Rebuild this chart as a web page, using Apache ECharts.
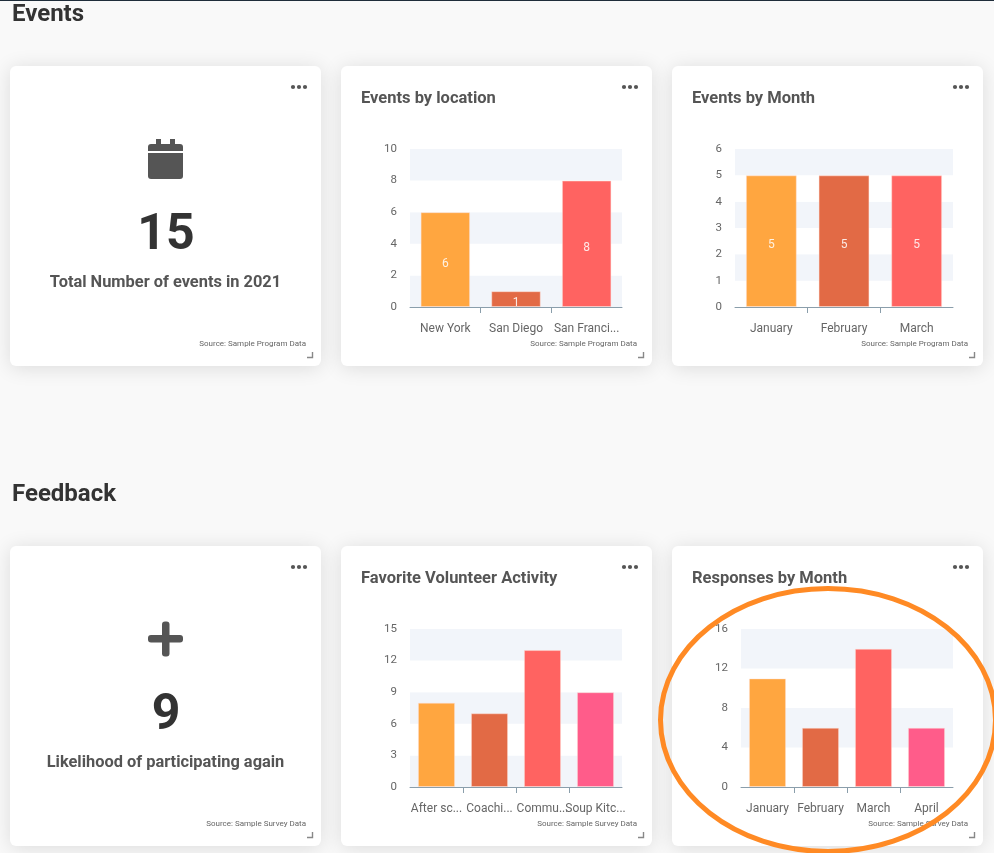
<!DOCTYPE html>
<html><head><meta charset="utf-8">
<style>html,body{margin:0;padding:0;background:#f9f9f9}#c{width:994px;height:853px}</style>
<script src="https://cdn.jsdelivr.net/npm/echarts@6/dist/echarts.min.js"></script>
</head><body><div id="c"></div>
<script>
const locationCategories = ['New York', 'San Diego', 'San Franci...'];
const locationValues = [6, 1, 8];
const monthCategories = ['January', 'February', 'March'];
const monthValues = [5, 5, 5];
const activityCategories = ['After sc...', 'Coachi...', 'Commu...', 'Soup Kitc...'];
const activityValues = [8, 7, 13, 9];
const responseCategories = ['January', 'February', 'March', 'April'];
const responseValues = [11, 6, 14, 6];
const palette = ['#ffa640', '#e26a45', '#ff6361', '#ff5c8a'];
const font = 'Roboto';

const charts = [
  {cats: locationCategories, vals: locationValues, max: 10, step: 2, left: 410, right: 622, top: 149, bottom: 307, labels: true, first: true},
  {cats: monthCategories, vals: monthValues, max: 6, step: 1, left: 735, right: 953, top: 149, bottom: 307, labels: true, first: false},
  {cats: activityCategories, vals: activityValues, max: 15, step: 3, left: 410, right: 622, top: 629, bottom: 787, labels: false, first: true},
  {cats: responseCategories, vals: responseValues, max: 16, step: 4, left: 741, right: 953, top: 629, bottom: 787, labels: false, first: false}
];
const W = 994, H = 853;
const grid = [], xAxis = [], yAxis = [], series = [];
charts.forEach((c, i) => {
  grid.push({left: c.left, width: c.right - c.left, top: c.top, height: c.bottom - c.top, containLabel: false});
  xAxis.push({
    type: 'category', gridIndex: i, data: c.cats,
    axisLine: {lineStyle: {color: '#8a9eab', width: 1}},
    axisTick: {show: false},
    axisLabel: {interval: 0, hideOverlap: false, fontFamily: font, fontSize: 12, color: '#666', margin: 16}
  });
  yAxis.push({
    type: 'value', gridIndex: i, min: 0, max: c.max, interval: c.step,
    axisLine: {show: false}, axisTick: {show: false}, splitLine: {show: false},
    splitArea: {show: true, areaStyle: {color: c.first ? ['#f2f5fa', '#ffffff'] : ['#ffffff', '#f2f5fa']}},
    axisLabel: {fontFamily: font, fontSize: 11.5, color: '#666', margin: 13, padding: [0, 0, 6, 0]}
  });
  series.push({
    type: 'bar', xAxisIndex: 2 * i, yAxisIndex: i, barCategoryGap: '30%',
    data: c.vals.map((v, k) => ({value: v, itemStyle: {color: palette[k], borderColor: 'rgba(255,225,215,0.45)', borderWidth: 1}})),
    label: {show: c.labels, position: 'inside', offset: [0, 4], color: 'rgba(255,255,255,.85)', fontFamily: font, fontSize: 12},
    silent: true
  });
});
// tick marks between the bands, without the two end ticks
const tickAxes = charts.map((c, i) => ({
  type: 'value', gridIndex: i, min: 0, max: c.cats.length, interval: 1, position: 'bottom',
  axisLine: {show: false}, axisLabel: {show: false}, splitLine: {show: false},
  axisTick: {show: true, length: 6, lineStyle: {color: '#8a9eab'}, customValues: c.cats.slice(1).map((_, k) => k + 1)}
}));
const allX = [];
xAxis.forEach((a, i) => { allX.push(a, tickAxes[i]); });

// page furniture
const g = [];
g.push({type: 'rect', shape: {x: 0, y: 0, width: W, height: 1}, style: {fill: '#1f2d3a'}, z: 0});
const heading = (t, y) => g.push({type: 'text', x: 12, y, style: {text: t, fontFamily: font, fontWeight: 700, fontSize: 24, fill: '#333', textVerticalAlign: 'middle'}, z: 1});
heading('Events', 15); heading('Feedback', 495);
const cards = [
  [10, 66, 'Source: Sample Program Data', null],
  [341, 66, 'Source: Sample Program Data', 'Events by location'],
  [672, 66, 'Source: Sample Program Data', 'Events by Month'],
  [10, 546, 'Source: Sample Survey Data', null],
  [341, 546, 'Source: Sample Survey Data', 'Favorite Volunteer Activity'],
  [672, 546, 'Source: Sample Survey Data', 'Responses by Month']
];
cards.forEach(([x, y, src, title]) => {
  g.push({type: 'rect', shape: {x, y, width: 311, height: 300, r: 6}, style: {fill: '#fff', shadowBlur: 20, shadowColor: 'rgba(0,0,0,.12)', shadowOffsetY: 2}, z: -1, zlevel: 0});
  if (title) g.push({type: 'text', x: x + 20, y: y + 33, style: {text: title, fontFamily: font, fontWeight: 700, fontSize: 16.5, fill: '#555', textVerticalAlign: 'middle'}, z: 5});
  [283, 289, 295].forEach(d => g.push({type: 'circle', shape: {cx: x + d, cy: y + 21, r: 2.1}, style: {fill: '#555'}, z: 5}));
  g.push({type: 'text', x: x + 296, y: y + 278, style: {text: src, fontFamily: font, fontSize: 8, fill: '#666', textAlign: 'right', textVerticalAlign: 'middle'}, z: 5});
  g.push({type: 'polyline', shape: {points: [[x + 297, y + 291.5], [x + 302.5, y + 291.5], [x + 302.5, y + 286]]}, style: {stroke: '#888', lineWidth: 1.4, fill: null}, z: 5});
});
const kpi = (n, cap, y0) => {
  g.push({type: 'text', x: 166, y: y0 + 170, style: {text: n, fontFamily: font, fontWeight: 700, fontSize: 50, fill: '#333', textAlign: 'center', textVerticalAlign: 'middle'}, z: 5});
  g.push({type: 'text', x: 165.5, y: y0 + 217, style: {text: cap, fontFamily: font, fontWeight: 700, fontSize: 16.4, fill: '#555', textAlign: 'center', textVerticalAlign: 'middle'}, z: 5});
};
kpi('15', 'Total Number of events in 2021', 66);
kpi('9', 'Likelihood of participating again', 546);
// calendar icon
[[148, 144, 35, 7, [3, 3, 0, 0]], [148, 153, 35, 26, [0, 0, 3, 3]], [156, 139, 5, 6, 0], [170, 139, 5, 6, 0]].forEach(([x, y, w, h, r]) =>
  g.push({type: 'rect', shape: {x, y, width: w, height: h, r}, style: {fill: '#555'}, z: 5}));
// plus icon
[[148, 635, 35, 7.5, 3], [162, 621.5, 7.5, 35, 3]].forEach(([x, y, w, h, r]) =>
  g.push({type: 'rect', shape: {x, y, width: w, height: h, r}, style: {fill: '#555'}, z: 5}));
// hand-drawn highlight
g.push({type: 'ellipse', shape: {cx: 828, cy: 720, rx: 167.5, ry: 131.5}, style: {fill: null, stroke: '#ff8a24', lineWidth: 5}, z: 100, zlevel: 1});

const chart = echarts.init(document.getElementById('c'), null, {renderer: 'canvas'});
chart.setOption({
  animation: false, backgroundColor: '#f9f9f9',
  grid, xAxis: allX, yAxis, series, graphic: {elements: g}
});
</script></body></html>
